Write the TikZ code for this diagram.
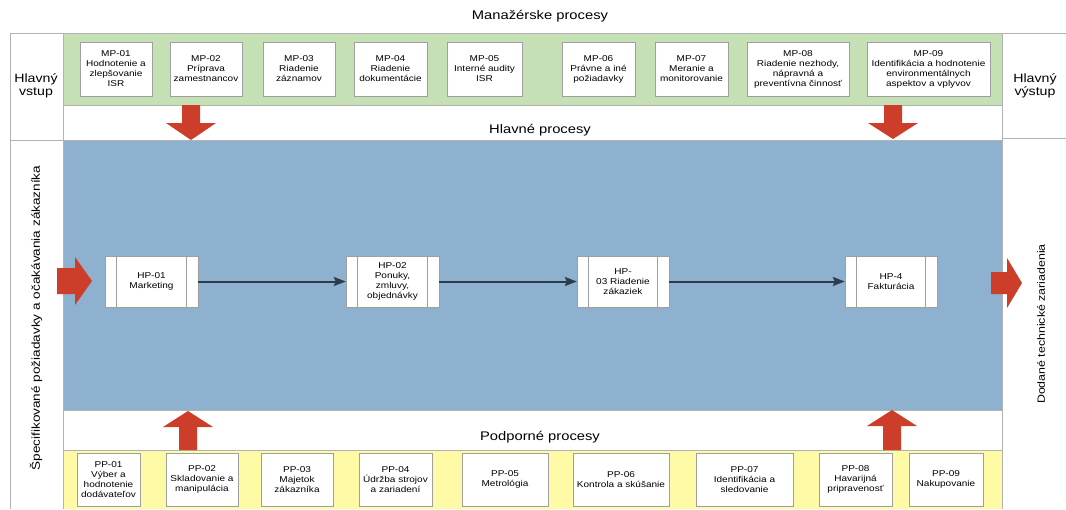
\documentclass[tikz,border=0pt]{standalone}
\usepackage{fontspec}
\setmainfont{Liberation Sans}
\newfontfamily\boxfont[FakeStretch=1.18]{Liberation Sans}
\usepackage{tikz}
\usepackage{xcolor}
\usetikzlibrary{arrows.meta}

\definecolor{bandblue}{RGB}{141,177,206}
\definecolor{bandgreen}{RGB}{198,224,182}
\definecolor{bandyellow}{RGB}{255,250,165}
\definecolor{arrowred}{RGB}{205,62,42}
\definecolor{flowgray}{RGB}{45,60,75}
\definecolor{framegray}{RGB}{178,178,178}

\begin{document}
\begin{tikzpicture}[x=1pt,y=-1pt,
    procbox/.style={draw=gray!75,fill=white,align=center,inner sep=1pt,
      font=\boxfont\fontsize{8.5}{10}\selectfont},
    hpbox/.style={procbox,minimum width=93pt,minimum height=51pt,
      path picture={
        \draw[gray!75] ([xshift=11.5pt]path picture bounding box.north west) -- ([xshift=11.5pt]path picture bounding box.south west);
        \draw[gray!75] ([xshift=-11.5pt]path picture bounding box.north east) -- ([xshift=-11.5pt]path picture bounding box.south east);}},
    redarrow/.style={fill=arrowred},
    hpflow/.style={-{Stealth[length=12pt,width=9pt,inset=2pt]},flowgray,line width=2pt},
    bandlabel/.style={font=\boxfont\fontsize{12.5}{14}\selectfont},
    sidelabel/.style={align=center,font=\boxfont\fontsize{11.5}{12.5}\selectfont}]
  \useasboundingbox (0,0) rectangle (1066,509);

  % bands
  \fill [bandgreen] (63,33) rectangle (1002,105);
  \fill [bandblue] (63,140) rectangle (1002,410);
  \fill [bandyellow] (63,450) rectangle (1002,509);

  % frame
  \draw [framegray] (10,33) -- (1066,33);
  \draw [framegray] (10,33) -- (10,509);
  \draw [framegray] (63,33) -- (63,509);
  \draw [framegray] (1002,33) -- (1002,509);
  \draw [framegray] (10,140) -- (63,140);
  \draw [framegray] (1002,138) -- (1066,138);
  \draw [framegray] (63,105) -- (1002,105);
  \draw [framegray] (63,140) -- (1002,140);
  \draw [framegray] (63,410) -- (1002,410);
  \draw [framegray] (63,450) -- (1002,450);

  % titles
  \node [bandlabel] (mantitle) at (540,16) {Manažérske procesy};
  \node [bandlabel] (maintitle) at (540,130) {Hlavné procesy};
  \node [bandlabel] (suptitle) at (540,437) {Podporné procesy};
  \node [sidelabel,font=\boxfont\fontsize{12}{12.5}\selectfont] (mainin) at (36,86) {Hlavný\\vstup};
  \node [sidelabel,font=\boxfont\fontsize{12}{12.5}\selectfont] (mainout) at (1035,86) {Hlavný\\výstup};
  \node [sidelabel,rotate=90] (reqs) at (36,318) {Špecifikované požiadavky a očakávania zákazníka};
  \node [sidelabel,rotate=90,font=\boxfont\fontsize{10.5}{12}\selectfont] (delivered) at (1041,324) {Dodané technické zariadenia};

  % red arrows
  \fill [redarrow] (182,105) -- (200,105) -- (200,123) -- (216,123) -- (191,140) -- (166,123) -- (182,123) -- cycle;
  \fill [redarrow] (884,105) -- (902,105) -- (902,123) -- (918,123) -- (893,139) -- (868,123) -- (884,123) -- cycle;
  \fill [redarrow] (179,450) -- (197,450) -- (197,427) -- (213,427) -- (188,411) -- (163,427) -- (179,427) -- cycle;
  \fill [redarrow] (883,450) -- (901,450) -- (901,426) -- (917,426) -- (892,410) -- (867,426) -- (883,426) -- cycle;
  \fill [redarrow] (57,268) -- (75,268) -- (75,257) -- (92,281) -- (75,305) -- (75,294) -- (57,294) -- cycle;
  \fill [redarrow] (991,272) -- (1007,272) -- (1007,258) -- (1022,283) -- (1007,308) -- (1007,294) -- (991,294) -- cycle;

  % managerial processes
  \node [procbox,minimum width=72pt,minimum height=54pt] (mp1) at (116,69) {MP-01\\Hodnotenie a\\zlepšovanie\\ISR};
  \node [procbox,minimum width=72pt,minimum height=54pt] (mp2) at (206,69) {MP-02\\Príprava\\zamestnancov};
  \node [procbox,minimum width=72pt,minimum height=54pt] (mp3) at (299,69) {MP-03\\Riadenie\\záznamov};
  \node [procbox,minimum width=73pt,minimum height=54pt] (mp4) at (390.5,69) {MP-04\\Riadenie\\dokumentácie};
  \node [procbox,minimum width=75pt,minimum height=54pt] (mp5) at (484.5,69) {MP-05\\Interné audity\\ISR};
  \node [procbox,minimum width=73pt,minimum height=54pt] (mp6) at (598.5,69) {MP-06\\Právne a iné\\požiadavky};
  \node [procbox,minimum width=73pt,minimum height=54pt] (mp7) at (691.5,69) {MP-07\\Meranie a\\monitorovanie};
  \node [procbox,minimum width=102pt,minimum height=54pt] (mp8) at (798,69) {MP-08\\Riadenie nezhody,\\nápravná a\\preventívna činnosť};
  \node [procbox,minimum width=123pt,minimum height=54pt] (mp9) at (928.5,69) {MP-09\\Identifikácia a hodnotenie\\environmentálnych\\aspektov a vplyvov};

  % main processes
  \node [hpbox] (hp1) at (151.5,281.5) {HP-01\\Marketing};
  \node [hpbox] (hp2) at (392.5,281.5) {HP-02\\Ponuky,\\zmluvy,\\objednávky};
  \node [hpbox,minimum width=92pt] (hp3) at (623,281.5) {HP-\\03 Riadenie\\zákaziek};
  \node [hpbox,minimum width=92pt] (hp4) at (891,281.5) {HP-4\\Fakturácia};
  \draw [hpflow] (hp1) -- (hp2);
  \draw [hpflow] (hp2) -- (hp3);
  \draw [hpflow] (hp3) -- (hp4);

  % support processes
  \node [procbox,minimum width=63pt,minimum height=53pt] (pp1) at (108.5,479.5) {PP-01\\Výber a\\hodnotenie\\dodávateľov};
  \node [procbox,minimum width=72pt,minimum height=53pt] (pp2) at (202,479.5) {PP-02\\Skladovanie a\\manipulácia};
  \node [procbox,minimum width=72pt,minimum height=53pt] (pp3) at (297,479.5) {PP-03\\Majetok\\zákazníka};
  \node [procbox,minimum width=73pt,minimum height=53pt] (pp4) at (395.5,479.5) {PP-04\\Údržba strojov\\a zariadení};
  \node [procbox,minimum width=86pt,minimum height=53pt] (pp5) at (505,479.5) {PP-05\\Metrológia};
  \node [procbox,minimum width=96pt,minimum height=53pt] (pp6) at (621,479.5) {PP-06\\Kontrola a skúšanie};
  \node [procbox,minimum width=97pt,minimum height=53pt] (pp7) at (744.5,479.5) {PP-07\\Identifikácia a\\sledovanie};
  \node [procbox,minimum width=73pt,minimum height=53pt] (pp8) at (855.5,479.5) {PP-08\\Havarijná\\pripravenosť};
  \node [procbox,minimum width=74pt,minimum height=53pt] (pp9) at (946,479.5) {PP-09\\Nakupovanie};
\end{tikzpicture}
\end{document}
